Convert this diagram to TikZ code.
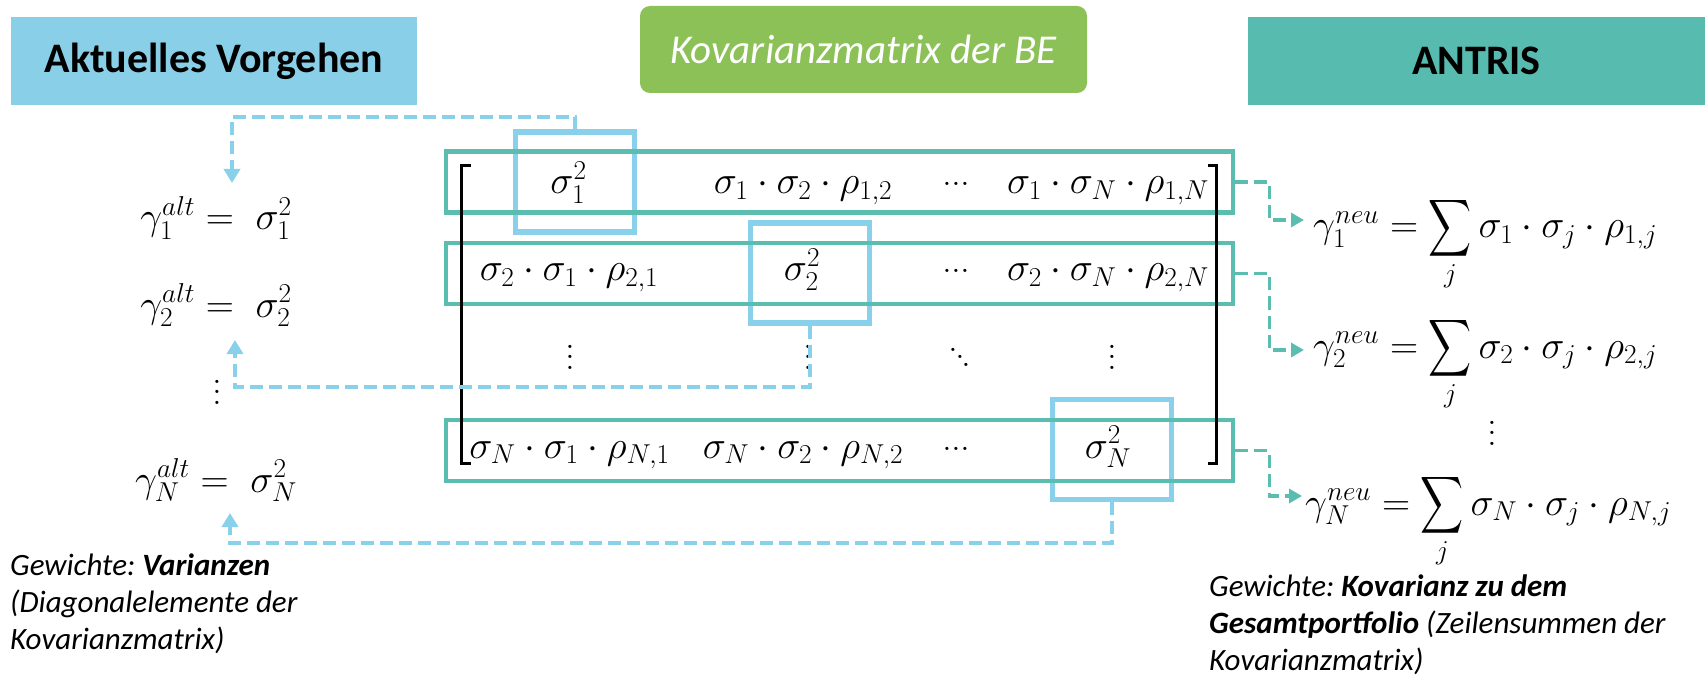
\RequirePackage{fix-cm}
\documentclass[tikz,border=0pt]{standalone}
\usepackage{amsmath}
\usepackage{fontspec}
\newfontfamily\calibri{Carlito}
\usetikzlibrary{arrows.meta,calc}
\definecolor{aktblue}{HTML}{89CFE8}
\definecolor{kovgreen}{HTML}{8CC158}
\definecolor{antteal}{HTML}{57BBB0}
\definecolor{rowteal}{HTML}{5ABDB0}
\definecolor{boxblue}{HTML}{89D0EA}
\newcommand{\vdts}{\vbox{\baselineskip=10.5pt\lineskiplimit=-100pt\hbox{.}\hbox{.}\hbox{.}}}
\newcommand{\ddts}{\hbox{\raisebox{15pt}{.}\kern-3pt\raisebox{7.5pt}{.}\kern-3pt.}}
\newcommand{\hdts}{\raisebox{8pt}{.\kern-0.8pt.\kern-0.8pt.}}
\newcommand{\bigsum}{\mathop{\vcenter{\hbox{\scalebox{1.2}[1.6]{$\displaystyle\sum$}}}}\limits}
\begin{document}
\frenchspacing
\begin{tikzpicture}[x=1pt,y=-1pt,
  hdr/.style={inner sep=0, minimum height=88pt, text=black},
  mth/.style={inner sep=0, font=\fontsize{39}{47}\selectfont},
  rowbox/.style={draw=rowteal, line width=4.5pt, minimum width=787pt, minimum height=61pt, inner sep=0},
  diagbox/.style={draw=boxblue, line width=5.5pt, minimum width=119pt, minimum height=100pt, inner sep=0},
  bluearr/.style={draw=boxblue, line width=3.8pt, dash pattern=on 13pt off 6pt, -{Triangle[width=16pt,length=14pt]}},
  tealarr/.style={draw=rowteal, line width=3.3pt, dash pattern=on 13pt off 6pt, -{Triangle[width=14pt,length=13pt]}},
  brk/.style={draw=black, line width=3pt},
  note/.style={inner sep=0, align=left, font=\calibri\itshape\fontsize{31}{37}\selectfont, anchor=north west}
]
\useasboundingbox (0,0) rectangle (1705,676);

% headers
\node[hdr, fill=aktblue, minimum width=406pt, font=\calibri\bfseries\fontsize{42}{50}\selectfont] (akt) at (214,61) {Aktuelles Vorgehen};
\node[hdr, fill=kovgreen, rounded corners=10pt, minimum width=447pt, minimum height=87pt, text=white, font=\calibri\itshape\fontsize{41}{49}\selectfont] (kov) at (863.5,49.5) {Kovarianzmatrix der BE};
\node[hdr, fill=antteal, minimum width=457pt, font=\calibri\bfseries\fontsize{42}{50}\selectfont] (ant) at (1476.5,61) {ANTRIS};

% diagonal boxes
\node[diagbox] (b1) at (575,182.25) {};
\node[diagbox] (b2) at (809.75,273) {};
\node[diagbox] (bN) at (1112,449.5) {};

% row boxes
\node[rowbox] (r1) at (839.5,182) {};
\node[rowbox] (r2) at (839.5,273.5) {};
\node[rowbox] (rN) at (839.5,450.5) {};

% brackets
\draw[brk] (471,166) -| (461.5,463) -- (471,463);
\draw[brk] (1208,166) -| (1216.5,463) -- (1208,463);

% matrix entries
\node[mth,anchor=base] (e11) at (568.5,194) {$\sigma_1^2$};
\node[mth,anchor=base] (e12) at (803,194) {$\sigma_1\cdot\sigma_2\cdot\rho_{1,2}$};
\node[mth,anchor=base] (e13) at (956,194) {\hdts};
\node[mth,anchor=base] (e14) at (1108,194) {$\sigma_1\cdot\sigma_N\cdot\rho_{1,N}$};
\node[mth,anchor=base] (e21) at (569,281) {$\sigma_2\cdot\sigma_1\cdot\rho_{2,1}$};
\node[mth,anchor=base] (e22) at (802,281) {$\sigma_2^2$};
\node[mth,anchor=base] (e23) at (956,281) {\hdts};
\node[mth,anchor=base] (e24) at (1108,281) {$\sigma_2\cdot\sigma_N\cdot\rho_{2,N}$};
\node[mth] (e31) at (570,357) {\vdts};
\node[mth] (e32) at (808,357) {\vdts};
\node[mth] (e33) at (960,357) {\ddts};
\node[mth] (e34) at (1112,357) {\vdts};
\node[mth,anchor=base] (eN1) at (569.5,458) {$\sigma_N\cdot\sigma_1\cdot\rho_{N,1}$};
\node[mth,anchor=base] (eN2) at (803,458) {$\sigma_N\cdot\sigma_2\cdot\rho_{N,2}$};
\node[mth,anchor=base] (eN3) at (956,458) {\hdts};
\node[mth,anchor=base] (eN4) at (1108,458) {$\sigma_N^2$};

% left formulas
\node[mth,anchor=base] (alt1) at (216,230) {$\gamma_1^{alt} = \;\sigma_1^2$};
\node[mth,anchor=base] (alt2) at (216,317) {$\gamma_2^{alt} = \;\sigma_2^2$};
\node[mth] (altd) at (217,392) {\vdts};
\node[mth,anchor=base] (altN) at (216,492) {$\gamma_N^{alt} = \;\sigma_N^2$};

% right formulas
\node[mth,anchor=base west] (neu1) at (1313,238) {$\gamma_1^{neu} = \bigsum_j \sigma_1\cdot\sigma_j\cdot\rho_{1,j}$};
\node[mth,anchor=base west] (neu2) at (1313,358) {$\gamma_2^{neu} = \bigsum_j \sigma_2\cdot\sigma_j\cdot\rho_{2,j}$};
\node[mth] (neud) at (1492,433) {\vdts};
\node[mth,anchor=base west] (neuN) at (1305,515) {$\gamma_N^{neu} = \bigsum_j \sigma_N\cdot\sigma_j\cdot\rho_{N,j}$};

% notes
\node[note] (nl) at (10,554) {Gewichte: \textbf{Varianzen}\\(Diagonalelemente der\\Kovarianzmatrix)};
\node[note] (nr) at (1209,575) {Gewichte: \textbf{Kovarianz zu dem}\\\textbf{Gesamtportfolio} (Zeilensummen der\\Kovarianzmatrix)};

% connectors
\draw[bluearr] (b1.north) -- ++(0,-12.5) -| ([shift={(16,-47)}]alt1.base);
\draw[bluearr] (b2.south) -- ++(0,61) -| ([shift={(19,23)}]alt2.base);
\draw[bluearr] (bN.south) -- ++(0,41) -| ([shift={(14,21)}]altN.base);
\draw[tealarr] (r1.east) -- ++(34,0) |- ([shift={(-9,-18)}]neu1.base west);
\draw[tealarr] (r2.east) -- ++(34,0) |- ([shift={(-9,-8)}]neu2.base west);
\draw[tealarr] (rN.east) -- ++(34,0) |- ([shift={(-3,-19)}]neuN.base west);
\end{tikzpicture}
\end{document}
